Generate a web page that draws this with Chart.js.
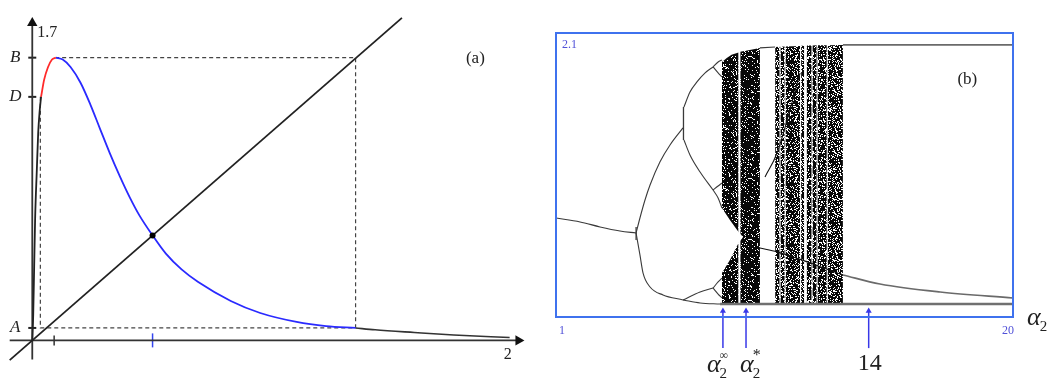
<!DOCTYPE html>
<html>
<head>
<meta charset="utf-8">
<script src="https://cdn.jsdelivr.net/npm/chart.js@4"></script>
<style>
  body { margin: 0; background: #fff; }
  #wrap { position: relative; width: 1055px; height: 380px; }
  #mapChart { position: absolute; left: 0; top: 0; }
  #bifChart { position: absolute; left: 540px; top: 0; }
</style>
</head>
<body>
<div id="wrap">
  <canvas id="mapChart" width="540" height="380"></canvas>
  <canvas id="bifChart" width="515" height="380"></canvas>
</div>
<script>
// ---------- (a) the map and its invariant box ----------
const riseX = [0, 0.004, 0.008, 0.012, 0.019, 0.025, 0.031, 0.037];
const riseY = [0, 0.125, 0.356, 0.587, 0.818, 1.003, 1.104, 1.174];
const redX = [0.037, 0.050, 0.066, 0.083, 0.099];
const redY = [1.174, 1.257, 1.317, 1.354, 1.363];
const blueX = [0.099, 0.128, 0.161, 0.203, 0.244, 0.285, 0.326, 0.368, 0.409, 0.450, 0.506, 0.562, 0.628, 0.698, 0.835, 0.959, 1.112, 1.236, 1.360];
const blueY = [1.363, 1.354, 1.318, 1.242, 1.138, 1.020, 0.903, 0.792, 0.692, 0.604, 0.506, 0.418, 0.342, 0.281, 0.190, 0.132, 0.089, 0.069, 0.060];
const tailX = [1.360, 1.442, 1.607, 1.773, 2.008];
const tailY = [0.060, 0.051, 0.038, 0.026, 0.014];
const diagX = [-0.095, 1.555];

const levelNames = ['B', 'D', 'A'];
const levelValues = [1.363, 1.174, 0.060];
const boxLeft = 0.034;
const boxRight = 1.360;
const peakX = 0.099;
const fixedPoint = 0.506;
const xTicks = [0.092, 0.506];
const xTickColors = ['#333', '#3344ee'];
const xAxisEnd = 2;
const yAxisTop = '1.7';

// ---------- (b) bifurcation diagram over alpha_2 ----------
const p1A = [1.00, 2.00, 2.83, 3.66, 4.33];
const p1Y = [0.732, 0.703, 0.666, 0.636, 0.621];
const p2UpA = [4.33, 4.49, 4.70, 4.91, 5.32, 5.74, 6.28];
const p2UpY = [0.621, 0.732, 0.865, 0.976, 1.146, 1.272, 1.398];
const p2LowA = [4.33, 4.49, 4.62, 4.91, 5.45, 6.28];
const p2LowY = [0.621, 0.459, 0.325, 0.222, 0.163, 0.126];
const p4aA = [6.32, 6.57, 6.86, 7.20, 7.53];
const p4aY = [1.553, 1.664, 1.738, 1.805, 1.849];
const p4bA = [6.32, 6.57, 6.99, 7.53];
const p4bY = [1.309, 1.198, 1.072, 0.939];
const p4cA = [6.28, 6.99, 7.53];
const p4cY = [0.126, 0.185, 0.214];
const p4dA = [6.28, 6.99, 7.82];
const p4dY = [0.126, 0.104, 0.096];
const jumpA = [4.33, 6.30];
const jumpLo = [0.570, 1.309];
const jumpHi = [0.666, 1.553];
// period-8 bubbles just before chaos
const loopA = [7.53, 7.74, 7.90];
const loopUpper = [[1.849, 1.886, 1.901], [0.939, 0.969, 0.991], [0.214, 0.259, 0.288]];
const loopLower = [[1.849, 1.805, 1.775], [0.939, 0.880, 0.806], [0.214, 0.170, 0.141]];
// chaotic bands (null = thin periodic window)
const chaos1A = [7.90, 8.10, 8.30, 8.59, 8.62, 8.66, 9.00, 9.48];
const chaos1Top = [1.886, 1.915, 1.940, 1.955, null, 1.962, 1.972, 1.990];
const chaos1Bottom = [0.104, 0.104, 0.104, 0.104, null, 0.104, 0.104, 0.104];
const chaos2A = [10.11, 10.30, 10.31, 10.33, 10.51, 10.52, 10.54, 11.15, 11.17, 11.19, 11.32, 11.38, 11.42, 11.63, 11.64, 11.66, 11.84, 11.85, 11.87, 12.26, 12.27, 12.29, 12.93];
const chaos2Top = [1.997, 1.998, null, 1.998, 2.000, null, 2.000, 2.004, null, 2.005, 2.006, null, 2.007, 2.008, null, 2.008, 2.009, null, 2.009, 2.010, null, 2.010, 2.012];
const chaos2Bottom = [0.104, 0.104, null, 0.104, 0.104, null, 0.104, 0.104, null, 0.104, 0.104, null, 0.104, 0.104, null, 0.104, 0.104, null, 0.104, 0.104, null, 0.104, 0.104];
const wedgeA = [7.90, 8.23, 8.59, 8.78];
const wedgeTop = [0.806, 0.717, 0.629, 0.592];
const wedgeBottom = [0.325, 0.422, 0.548, 0.592];
// orbits visible through and after the chaos
const w1A = [9.48, 10.11];
const w1Y = [1.990, 1.997];
const w2A = [9.69, 10.19, 11.15];
const w2Y = [1.036, 1.213, 1.805];
const w3A = [9.48, 10.19, 12.93];
const w3Y = [0.510, 0.481, 0.311];
const topTailA = [12.93, 20];
const topTailY = [2.012, 2.012];
const lowTailA = [12.93, 14.47, 16.97, 20];
const lowTailY = [0.311, 0.244, 0.185, 0.141];
const floorA = [7.82, 20];
const floorY = [0.096, 0.096];
const markA = [7.94, 8.90, 14];

const pts = (xs, ys) => xs.map((x, i) => ({ x, y: ys[i] }));
const serif = '"Liberation Serif", "DejaVu Serif", serif';

function curve(data, color, width, extra) {
  return Object.assign({
    type: 'line', data, borderColor: color, borderWidth: width,
    pointRadius: 0, fill: false, clip: false, cubicInterpolationMode: 'monotone'
  }, extra || {});
}

// dotted texture for the chaotic bands: dark ink with scattered white specks
// (fixed integer hash, so the texture is the same on every load)
function speckle(whiteShare) {
  const n = 61;
  const c = document.createElement('canvas');
  c.width = n; c.height = n;
  const g = c.getContext('2d');
  const img = g.createImageData(n, n);
  for (let j = 0; j < n; j++) {
    for (let i = 0; i < n; i++) {
      let h = Math.imul(i * 374761393 + j * 668265263, 1274126177);
      h = Math.imul(h ^ (h >>> 13), 1103515245);
      h = (h ^ (h >>> 16)) >>> 0;
      const v = (h % 1000) / 1000 < whiteShare ? 255 : 8;
      const k = (j * n + i) * 4;
      img.data[k] = img.data[k + 1] = img.data[k + 2] = v;
      img.data[k + 3] = 255;
    }
  }
  g.putImageData(img, 0, 0);
  return g.createPattern(c, 'repeat');
}

const mapLabels = {
  id: 'mapLabels',
  afterDatasetsDraw(chart) {
    const { ctx, scales: { x, y } } = chart;
    const x0 = x.getPixelForValue(0);
    ctx.save();
    ctx.fillStyle = '#222';
    ctx.textAlign = 'center';
    ctx.textBaseline = 'middle';
    ctx.font = 'italic 17px ' + serif;
    levelNames.forEach((n, i) => ctx.fillText(n, x0 - 17, y.getPixelForValue(levelValues[i])));
    ctx.font = '16px ' + serif;
    ctx.textAlign = 'left';
    ctx.fillText(yAxisTop, x0 + 5, y.getPixelForValue(1.557) + 15);
    ctx.textAlign = 'center';
    ctx.fillText(String(xAxisEnd), x.getPixelForValue(xAxisEnd), y.getPixelForValue(0) + 14);
    ctx.font = '17px ' + serif;
    ctx.fillText('(a)', x.getPixelForValue(1.864), y.getPixelForValue(1.359));
    ctx.restore();
  }
};

new Chart(document.getElementById('mapChart'), {
  type: 'line',
  data: {
    datasets: [
      curve([{ x: fixedPoint, y: fixedPoint }], '#000', 0, { pointRadius: 3, pointBackgroundColor: '#000', showLine: false }),
      curve(pts(riseX, riseY), '#222', 1.8),
      curve(pts(redX, redY), '#ff2a2a', 1.8),
      curve(pts(blueX, blueY), '#2a2aff', 1.8),
      curve(pts(tailX, tailY), '#333', 1.6),
      curve(pts(diagX, diagX), '#222', 1.8, { cubicInterpolationMode: 'default' }),
      curve([
        { x: boxLeft, y: levelValues[1] }, { x: boxLeft, y: levelValues[2] },
        { x: boxRight, y: levelValues[2] }, { x: boxRight, y: levelValues[0] },
        { x: peakX, y: levelValues[0] }
      ], '#444', 1.2, { borderDash: [4, 3], cubicInterpolationMode: 'default' }),
      curve([{ x: -0.095, y: 0 }, { x: 2.045, y: 0 }], '#333', 1.8, {
        cubicInterpolationMode: 'default', pointRadius: [0, 6], pointStyle: 'triangle',
        rotation: 90, pointBackgroundColor: '#111', pointBorderWidth: 0
      }),
      curve([{ x: 0, y: -0.092 }, { x: 0, y: 1.53 }], '#333', 1.8, {
        cubicInterpolationMode: 'default', pointRadius: [0, 6], pointStyle: 'triangle',
        pointBackgroundColor: '#111', pointBorderWidth: 0
      }),
      curve(levelValues.map(v => ({ x: 0, y: v })), '#222', 0, {
        showLine: false, pointRadius: 4, pointStyle: 'line', pointBorderColor: '#222', pointBorderWidth: 2
      }),
      curve(xTicks.map(v => ({ x: v, y: 0 })), '#222', 0, {
        showLine: false, pointRadius: [5, 7], pointStyle: 'line', rotation: 90,
        pointBorderColor: xTickColors, pointBorderWidth: 1.5
      })
    ]
  },
  options: {
    responsive: false,
    animation: false,
    layout: { padding: { left: 6.8, right: 0.8, top: 0.76, bottom: 0.54 } },
    scales: {
      x: { type: 'linear', min: -0.1, max: 2.1, display: false },
      y: { type: 'linear', min: -0.15, max: 1.6, display: false }
    },
    plugins: { legend: { display: false }, tooltip: { enabled: false } }
  },
  plugins: [mapLabels]
});

// frame, corner values, arrows' captions
const bifFrame = {
  id: 'bifFrame',
  afterDatasetsDraw(chart) {
    const { ctx, chartArea: a, scales: { x, y } } = chart;
    ctx.save();
    ctx.strokeStyle = '#3f72ee';
    ctx.lineWidth = 2;
    ctx.strokeRect(a.left, a.top, a.right - a.left, a.bottom - a.top);
    ctx.fillStyle = '#5050d8';
    ctx.font = '12px ' + serif;
    ctx.textBaseline = 'middle';
    ctx.textAlign = 'left';
    ctx.fillText('2.1', a.left + 6, a.top + 12);
    ctx.fillText('1', a.left + 3, a.bottom + 14);
    ctx.textAlign = 'right';
    ctx.fillText('20', a.right + 1, a.bottom + 14);
    ctx.fillStyle = '#222';
    ctx.textAlign = 'center';
    ctx.font = '17px ' + serif;
    ctx.fillText('(b)', x.getPixelForValue(18.1), y.getPixelForValue(1.753));
    const greek = (px, py, sup) => {
      ctx.textAlign = 'left';
      ctx.font = 'italic 26px ' + serif;
      ctx.fillText('\u03b1', px, py);
      const w = ctx.measureText('\u03b1').width;
      ctx.font = '15px ' + serif;
      ctx.fillText('2', px + w - 1, py + 9);
      if (sup) {
        ctx.font = sup === '\u221e' ? '12px ' + serif : '16px ' + serif;
        ctx.fillText(sup, px + w - 1, py - 9);
      }
    };
    greek(a.right + 14, a.bottom + 1);
    greek(x.getPixelForValue(markA[0]) - 16, a.bottom + 48, '\u221e');
    greek(x.getPixelForValue(markA[1]) - 6, a.bottom + 48, '*');
    ctx.textAlign = 'center';
    ctx.font = '24px ' + serif;
    ctx.fillText(String(markA[2]), x.getPixelForValue(markA[2]) + 1, a.bottom + 47);
    ctx.restore();
  }
};

const branch = '#3a3a3a';
const bifSets = [
  curve(pts(p1A, p1Y), branch, 1.1),
  curve(pts(p2UpA, p2UpY), branch, 1.1),
  curve(pts(p2LowA, p2LowY), branch, 1.1),
  curve(pts(p4aA, p4aY), branch, 1.1),
  curve(pts(p4bA, p4bY), branch, 1.1),
  curve(pts(p4cA, p4cY), branch, 1.1),
  curve(pts(p4dA, p4dY), branch, 1.1),
  curve(pts(w1A, w1Y), branch, 1.1),
  curve(pts(w2A, w2Y), '#111', 1.1),
  curve(pts(w3A, w3Y), '#111', 1.2),
  curve(pts(topTailA, topTailY), '#6a6a6a', 1.8),
  curve(pts(lowTailA, lowTailY), '#6a6a6a', 1.6),
  curve(pts(floorA, floorY), '#707070', 2.6)
];
jumpA.forEach((a, i) => bifSets.push(curve([{ x: a, y: jumpLo[i] }, { x: a, y: jumpHi[i] }], branch, 1.3)));
loopUpper.forEach((u, i) => {
  bifSets.push(curve(pts(loopA, u), branch, 1.1));
  bifSets.push(curve(pts(loopA, loopLower[i]), branch, 1.1));
});
markA.forEach(a => bifSets.push(curve([{ x: a, y: -0.23 }, { x: a, y: 0.045 }], '#3838e8', 1.5, {
  cubicInterpolationMode: 'default', pointRadius: [0, 3.5], pointStyle: 'triangle',
  pointBackgroundColor: '#3838e8', pointBorderWidth: 0
})));
// white wedge where the two halves of the first band meet, then the bands
bifSets.push(curve(pts(wedgeA, wedgeTop), '#fff', 0, { fill: '+1', backgroundColor: '#fff', cubicInterpolationMode: 'default' }));
bifSets.push(curve(pts(wedgeA, wedgeBottom), '#fff', 0, { cubicInterpolationMode: 'default' }));
[[chaos1A, chaos1Top, chaos1Bottom, 0.14], [chaos2A, chaos2Top, chaos2Bottom, 0.25]].forEach(([a, top, bottom, share]) => {
  bifSets.push(curve(pts(a, top), 'rgba(0,0,0,0)', 0, {
    fill: '+1', backgroundColor: speckle(share), spanGaps: false, cubicInterpolationMode: 'default'
  }));
  bifSets.push(curve(pts(a, bottom), 'rgba(0,0,0,0)', 0, { spanGaps: false, cubicInterpolationMode: 'default' }));
});

new Chart(document.getElementById('bifChart'), {
  type: 'line',
  data: { datasets: bifSets },
  options: {
    responsive: false,
    animation: false,
    layout: { padding: { left: 16, right: 42, top: 33, bottom: 63 } },
    scales: {
      x: { type: 'linear', min: 1, max: 20, display: false },
      y: { type: 'linear', min: 0, max: 2.1, display: false }
    },
    plugins: { legend: { display: false }, tooltip: { enabled: false } }
  },
  plugins: [bifFrame]
});
</script>
</body>
</html>
